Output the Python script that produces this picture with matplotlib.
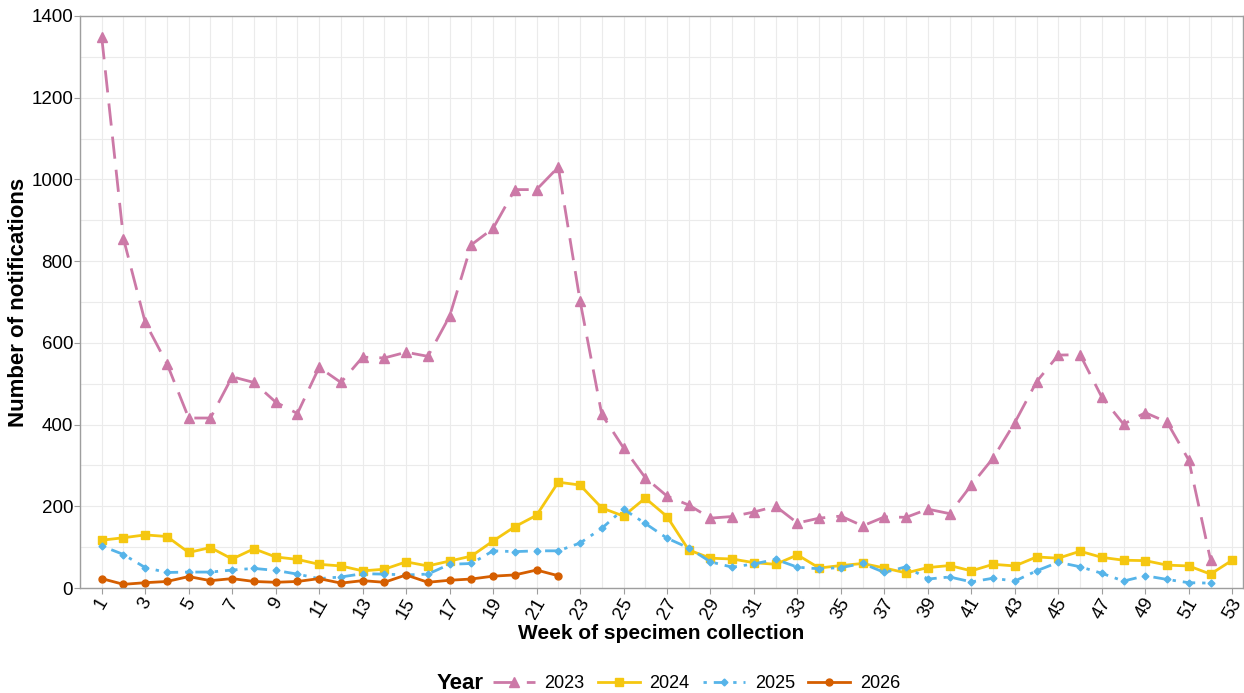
import numpy as np
import matplotlib.pyplot as plt
from matplotlib.ticker import MultipleLocator

plt.rcParams['font.family'] = ['Liberation Sans', 'DejaVu Sans']

weeks_2023 = list(range(1, 53))
cases_2023 = [1348, 855, 650, 549, 416, 416, 517, 503, 455, 427,
              540, 503, 565, 563, 577, 567, 665, 840, 880, 975,
              975, 1030, 703, 425, 343, 270, 225, 203, 171, 175,
              186, 200, 159, 171, 176, 152, 174, 173, 193, 182,
              252, 318, 405, 505, 570, 571, 467, 401, 429, 406,
              313, 69]

weeks_2024 = list(range(1, 54))
cases_2024 = [117, 123, 130, 126, 87, 99, 71, 96, 76, 70,
              58, 54, 42, 46, 64, 54, 66, 78, 115, 150,
              178, 259, 252, 196, 176, 220, 175, 93, 73, 71,
              62, 58, 81, 49, 55, 60, 49, 37, 50, 55,
              42, 58, 54, 76, 73, 90, 75, 68, 67, 56,
              54, 34, 68]

weeks_2025 = list(range(1, 53))
cases_2025 = [103, 82, 50, 38, 39, 39, 44, 48, 43, 34,
              23, 27, 35, 34, 32, 34, 58, 60, 91, 89,
              91, 91, 110, 146, 193, 158, 122, 98, 64, 51,
              59, 70, 51, 47, 50, 60, 38, 52, 22, 27,
              15, 24, 17, 42, 63, 52, 36, 17, 30, 21,
              13, 12]

weeks_2026 = list(range(1, 23))
cases_2026 = [23, 9, 13, 16, 28, 18, 23, 16, 14, 16,
              23, 12, 18, 14, 32, 14, 19, 22, 29, 32,
              44, 30]

years = ['2023', '2024', '2025', '2026']
colors = ['#CC79A7', '#F5C710', '#56B4E9', '#D55E00']

fig = plt.figure(figsize=(12.44, 6.93), dpi=100)
ax = fig.add_axes([0.0643, 0.1515, 0.935, 0.8255])

ax.plot(weeks_2023, cases_2023, color=colors[0], lw=2.0, dashes=(8, 4),
        marker='^', ms=7, label=years[0])
ax.plot(weeks_2024, cases_2024, color=colors[1], lw=2.0, linestyle='-',
        marker='s', ms=6, label=years[1])
ax.plot(weeks_2025, cases_2025, color=colors[2], lw=2.0, dashes=(1.2, 2.5, 4.5, 2.5),
        marker='D', ms=3.5, label=years[2])
ax.plot(weeks_2026, cases_2026, color=colors[3], lw=2.0, linestyle='-',
        marker='o', ms=5, label=years[3])

ax.set_xlim(0, 53.5)
ax.set_ylim(0, 1400)
ax.set_xticks(range(1, 54, 2))
ax.xaxis.set_minor_locator(MultipleLocator(1))
ax.yaxis.set_major_locator(MultipleLocator(200))
ax.yaxis.set_minor_locator(MultipleLocator(100))
ax.grid(which='both', color='#EBEBEB', lw=0.8)
ax.set_axisbelow(True)

for s in ax.spines.values():
    s.set_color('#9E9E9E')
    s.set_linewidth(1.0)

ax.tick_params(axis='both', which='major', labelsize=13.5, colors='#9E9E9E',
               labelcolor='black', length=4, pad=1)
ax.tick_params(axis='both', which='minor', length=0)
plt.setp(ax.get_xticklabels(), rotation=60, ha='center', va='top')

ax.set_xlabel('Week of specimen collection', fontsize=15, fontweight='bold')
ax.set_ylabel('Number of notifications', fontsize=16, fontweight='bold')
ax.xaxis.set_label_coords(0.5, -0.063)
ax.yaxis.set_label_coords(-0.053, 0.5)
ax.yaxis.label.set_va('center')

fig.text(437 / 1244, 0.013, 'Year', fontsize=16, fontweight='bold',
         ha='left', va='center')
leg = fig.legend(loc='center left', bbox_to_anchor=(493 / 1244, 0.013), ncol=4,
                 frameon=False, fontsize=13, handlelength=2.3,
                 columnspacing=0.75, handletextpad=0.55, borderpad=0,
                 borderaxespad=0)

fig.savefig('out.png', dpi=100)
